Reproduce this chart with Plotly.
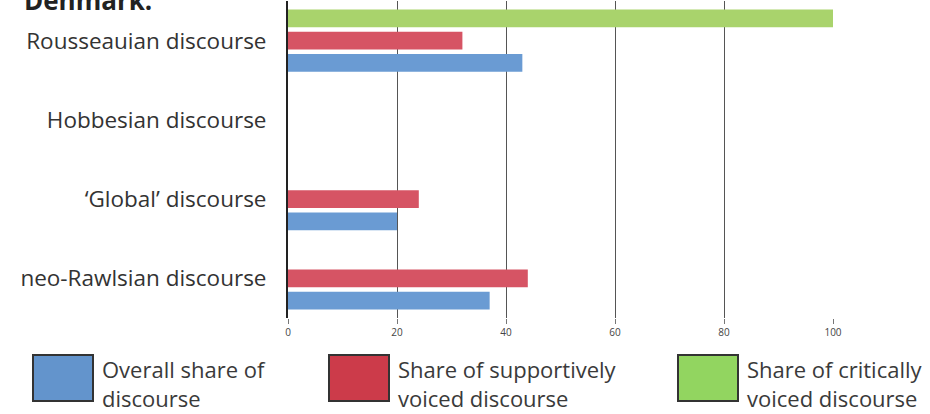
import plotly.graph_objects as go

categories = ["Rousseauian discourse", "Hobbesian discourse", "\u2018Global\u2019 discourse", "neo-Rawlsian discourse"]
overall = [43, 0, 20, 37]
supportive = [32, 0, 24, 44]
critical = [100, 0, 0, 0]
series_lines = [["Overall share of", "discourse"],
                ["Share of supportively", "voiced discourse"],
                ["Share of critically", "voiced discourse"]]
bar_colors = ["#6a9bd3", "#d65464", "#a9d36c"]
legend_colors = ["#6394cc", "#cc3b4a", "#92d560"]
tick_vals = [0, 20, 40, 60, 80, 100]

FONT = "Open Sans"
W, H = 930, 414
L, R, T, B = 288, 97, 1, 96
PW, PH = W - L - R, H - T - B


def px(x):
    return (x - L) / PW


def py(y):
    return (H - B - y) / PH


fig = go.Figure()
for vals, lines, col in zip([overall, supportive, critical], series_lines, bar_colors):
    fig.add_trace(go.Bar(y=categories, x=vals, orientation="h", name=" ".join(lines),
                         marker=dict(color=col, line=dict(width=0)), showlegend=False))

fig.update_layout(
    width=W, height=H,
    margin=dict(l=L, r=R, t=T, b=B),
    paper_bgcolor="white", plot_bgcolor="white",
    barmode="group", bargap=0.16, bargroupgap=0.2,
    font=dict(family=FONT, color="#333333"),
)
fig.update_xaxes(range=[0, 100], tickvals=tick_vals, showgrid=True, gridcolor="#555555", gridwidth=1,
                 zeroline=False, showline=False, ticks="outside", ticklen=5, tickcolor="#777777",
                 tickfont=dict(size=10, color="#444444"))
fig.update_yaxes(categoryorder="array", categoryarray=categories[::-1], showline=True,
                 linecolor="#222222", linewidth=2, ticks="", ticklabelstandoff=15,
                 tickfont=dict(size=22.5, color="#333333"))

# Title (cropped at top like the scan)
fig.add_annotation(x=px(22), y=py(20), xref="paper", yref="paper", text="<b>Denmark:</b>",
                   showarrow=False, xanchor="left", yanchor="bottom", font=dict(size=26, color="#222222"))

# Custom legend with large swatches
box_x = [33, 329, 678]
for bx, col, lines in zip(box_x, legend_colors, series_lines):
    fig.add_shape(type="rect", xref="paper", yref="paper",
                  x0=px(bx), x1=px(bx + 60), y0=py(401), y1=py(355),
                  fillcolor=col, line=dict(color="#333333", width=2))
    for i, ln in enumerate(lines):
        fig.add_annotation(x=px(bx + 67), y=py(369 + 29 * i), xref="paper", yref="paper", text=ln,
                           showarrow=False, xanchor="left", yanchor="middle", align="left",
                           font=dict(size=22, color="#3a3a3a"))

fig.write_html("out.html")
